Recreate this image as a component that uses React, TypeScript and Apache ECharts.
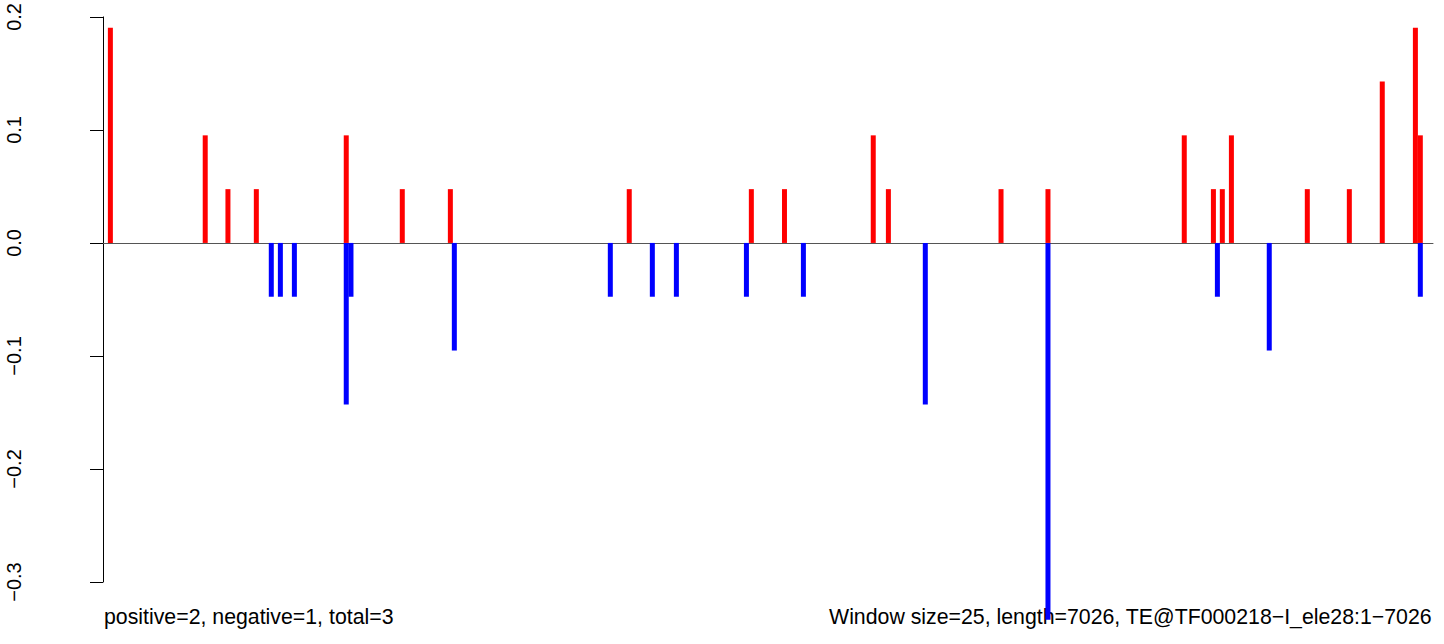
import React, { useEffect, useRef } from "react";
import * as echarts from "echarts";

// Window positions (bp) and scores
const positiveX = [39, 540, 660, 810, 1285, 1581, 1835, 2780, 3425, 3600, 4069, 4149, 4744, 4992, 5712, 5866, 5913, 5961, 6362, 6584, 6758, 6933, 6959];
const positiveV = [0.1905, 0.0952, 0.0476, 0.0476, 0.0952, 0.0476, 0.0476, 0.0476, 0.0476, 0.0476, 0.0952, 0.0476, 0.0476, 0.0476, 0.0952, 0.0476, 0.0476, 0.0952, 0.0476, 0.0476, 0.1429, 0.1905, 0.0952];
const negativeX = [889, 937, 1011, 1285, 1310, 1856, 2680, 2902, 3029, 3399, 3700, 4344, 4992, 5887, 6161, 6959];
const negativeV = [-0.0476, -0.0476, -0.0476, -0.1429, -0.0476, -0.0952, -0.0476, -0.0476, -0.0476, -0.0476, -0.0476, -0.1429, -0.3333, -0.0476, -0.0952, -0.0476];

const seqLength = 7026;
const yTicks = { min: -0.3, max: 0.2, interval: 0.1 };
const leftNote = "positive=2, negative=1, total=3";
const rightNote = "Window size=25, length=7026, TE@TF000218\u2212I_ele28:1\u22127026";

const FONT = "'Liberation Sans', Arial, Helvetica, sans-serif";

export default function App() {
  const ref = useRef<HTMLDivElement>(null);
  useEffect(() => {
    if (!ref.current) return;
    const chart = echarts.init(ref.current, undefined, { renderer: "svg" });
    chart.setOption({
      animation: false,
      backgroundColor: "#ffffff",
      textStyle: { fontFamily: FONT },
      grid: { left: 103, right: 11, top: 15, bottom: 62, containLabel: false },
      xAxis: {
        type: "value",
        min: 0,
        max: seqLength,
        axisLine: { show: true, onZero: true, lineStyle: { color: "#555555", width: 1 } },
        axisTick: { show: false },
        axisLabel: { show: false },
        splitLine: { show: false },
      },
      yAxis: {
        type: "value",
        min: yTicks.min,
        max: yTicks.max,
        interval: yTicks.interval,
        offset: 52,
        axisLine: { show: true, lineStyle: { color: "#000000", width: 1 } },
        axisTick: { show: true, length: 13, lineStyle: { color: "#000000", width: 1 } },
        splitLine: { show: false },
        axisLabel: {
          rotate: 90,
          margin: 27,
          color: "#000000",
          fontSize: 20,
          fontFamily: FONT,
          formatter: (v: number) => v.toFixed(1).replace("-", "\u2212"),
        },
      },
      series: [
        {
          type: "bar",
          name: "positive",
          data: positiveX.map((x, i) => [x, positiveV[i]]),
          barWidth: 5,
          barGap: "-100%",
          clip: false,
          itemStyle: { color: "#ff0000" },
          z: 3,
        },
        {
          type: "bar",
          name: "negative",
          data: negativeX.map((x, i) => [x, negativeV[i]]),
          barWidth: 5,
          barGap: "-100%",
          clip: false,
          itemStyle: { color: "#0000ff" },
          z: 3,
        },
      ],
      graphic: [
        {
          type: "text",
          left: 104,
          top: 606,
          z: 0,
          style: { text: leftNote, fill: "#000000", font: `21.3px ${FONT}` },
        },
        {
          type: "text",
          right: 12,
          top: 606,
          z: 0,
          style: { text: rightNote, fill: "#000000", font: `21.3px ${FONT}` },
        },
      ],
    });
    return () => chart.dispose();
  }, []);
  return (
    <div
      ref={ref}
      style={{ position: "absolute", left: 0, top: 0, width: 1444, height: 644 }}
    />
  );
}
